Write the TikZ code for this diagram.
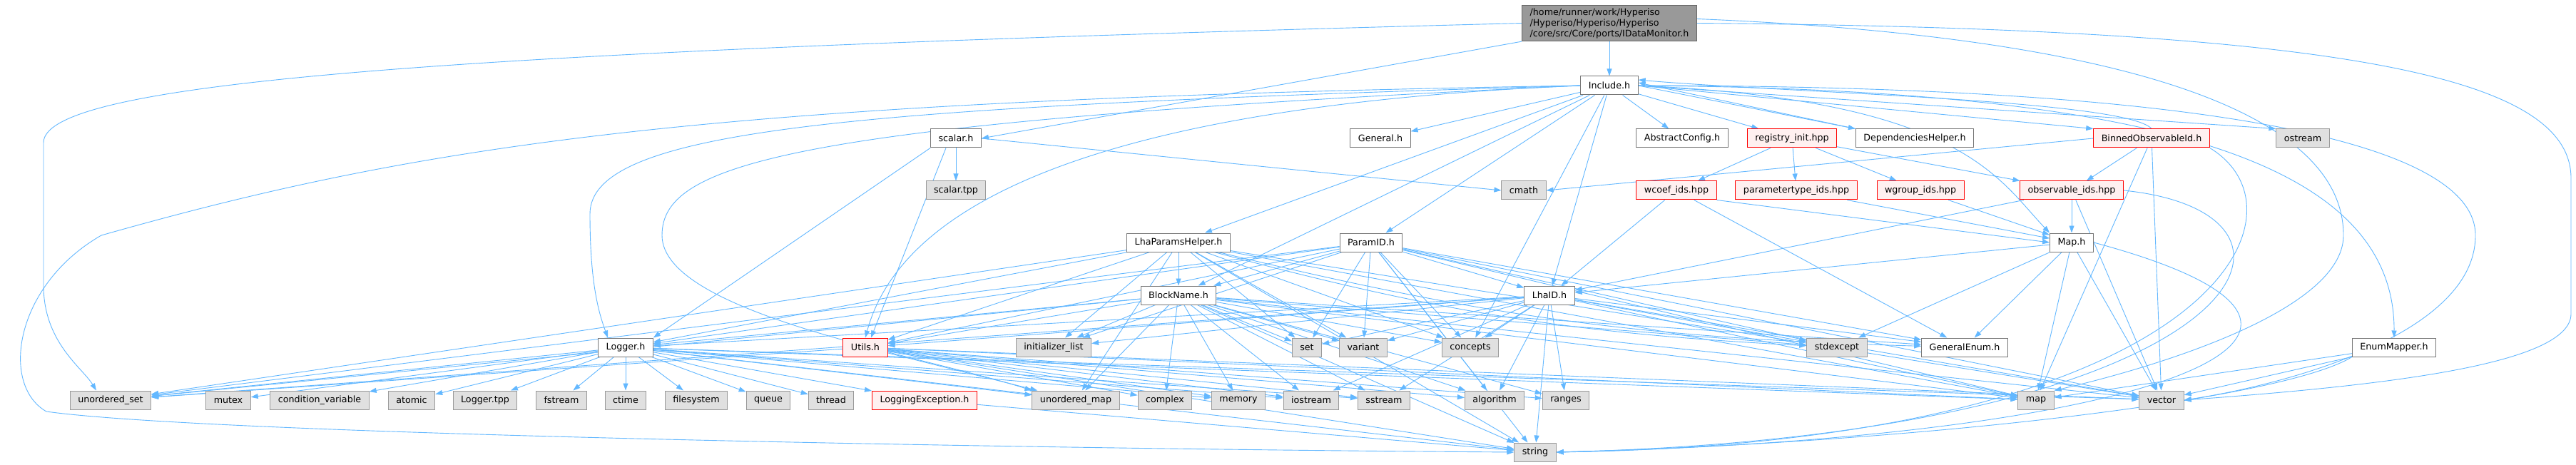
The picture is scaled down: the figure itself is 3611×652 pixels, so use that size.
\documentclass[tikz,border=0pt]{standalone}
\usepackage{fontspec}
\newfontfamily\graphfont{DejaVu Sans}
\usetikzlibrary{arrows.meta,backgrounds}
\tikzset{>={Triangle[length=10pt,width=7pt]}}

\definecolor{edgeblue}{HTML}{63B8FF}
\definecolor{rootfill}{HTML}{999999}
\definecolor{rootline}{HTML}{666666}
\definecolor{fileline}{HTML}{777777}
\definecolor{sysfill}{HTML}{E0E0E0}
\definecolor{sysline}{HTML}{999999}
\definecolor{redfill}{HTML}{FFF0F0}
\definecolor{redline}{HTML}{FF0000}

\tikzset{
  file/.style={draw=fileline,fill=white,line width=1pt,
    font=\graphfont\fontsize{12.7}{15}\selectfont,
    inner xsep=11pt,inner ysep=0pt,minimum height=26pt},
  sysfile/.style={file,draw=sysline,fill=sysfill},
  redfile/.style={file,draw=redline,fill=redfill},
  rootfile/.style={file,draw=rootline,fill=rootfill,align=left,inner ysep=4pt},
  dep/.style={->,draw=edgeblue,line width=0.9pt}
}

\begin{document}
\begin{tikzpicture}[x=1pt,y=-1pt]
\useasboundingbox (0,0) rectangle (3611,652);

% Root file
\node[rootfile] (root) at (2256,32.5) {/home/runner/work/Hyperiso\\/Hyperiso/Hyperiso/Hyperiso\\/core/src/Core/ports/IDataMonitor.h};

% Row 1
\node[file] (inc) at (2256,120) {Include.h};

% Row 2
\node[file] (scalar) at (1340,194) {scalar.h};
\node[file] (general) at (1935,194) {General.h};
\node[file] (absconf) at (2358,194) {AbstractConfig.h};
\node[redfile] (reginit) at (2512,194) {registry\_init.hpp};
\node[file] (dephelp) at (2684,194) {DependenciesHelper.h};
\node[redfile] (binned) at (3016,194) {BinnedObservableId.h};
\node[sysfile] (ostream) at (3228,194) {ostream};

% Row 3
\node[sysfile] (scalartpp) at (1340,267) {scalar.tpp};
\node[sysfile] (cmath) at (2136,267) {cmath};
\node[redfile] (wcoef) at (2350,267) {wcoef\_ids.hpp};
\node[redfile] (ptype) at (2518,267) {parametertype\_ids.hpp};
\node[redfile] (wgroup) at (2692,267) {wgroup\_ids.hpp};
\node[redfile] (obsids) at (2904,267) {observable\_ids.hpp};

% Row 4
\node[file] (lhaph) at (1652,340) {LhaParamsHelper.h};
\node[file] (paramid) at (1922,340) {ParamID.h};
\node[file] (mapH) at (2904,340) {Map.h};

% Row 5
\node[file] (blockname) at (1652,414) {BlockName.h};
\node[file] (lhaid) at (2172,414) {LhaID.h};

% Row 6
\node[file] (logger) at (877,487) {Logger.h};
\node[redfile] (utils) at (1213,487) {Utils.h};
\node[sysfile] (initlist) at (1477,487) {initializer\_list};
\node[sysfile] (set) at (1832,487) {set};
\node[sysfile] (variant) at (1911,487) {variant};
\node[sysfile] (concepts) at (2061,487) {concepts};
\node[sysfile] (stdexcept) at (2575,487) {stdexcept};
\node[file] (genenum) at (2754,487) {GeneralEnum.h};
\node[file] (enummapper) at (3356,487) {EnumMapper.h};

% Row 7
\node[sysfile] (uset) at (155,561) {unordered\_set};
\node[sysfile] (mutex) at (320,561) {mutex};
\node[sysfile] (condvar) at (448,561) {condition\_variable};
\node[sysfile] (atomic) at (577,561) {atomic};
\node[sysfile] (loggertpp) at (680,561) {Logger.tpp};
\node[sysfile] (fstream) at (787,561) {fstream};
\node[sysfile] (ctime) at (877,561) {ctime};
\node[sysfile] (filesystem) at (976,561) {filesystem};
\node[sysfile] (queue) at (1077,561) {queue};
\node[sysfile] (thread) at (1165,561) {thread};
\node[redfile] (logexc) at (1296,561) {LoggingException.h};
\node[sysfile] (umap) at (1508,561) {unordered\_map};
\node[sysfile] (complex) at (1633,561) {complex};
\node[sysfile] (memory) at (1736,561) {memory};
\node[sysfile] (iostream) at (1838,561) {iostream};
\node[sysfile] (sstream) at (1940,561) {sstream};
\node[sysfile] (algorithm) at (2095,561) {algorithm};
\node[sysfile] (ranges) at (2195,561) {ranges};
\node[sysfile] (map) at (2854,561) {map};
\node[sysfile] (vector) at (3030,561) {vector};

% Row 8
\node[sysfile] (string) at (2152,634) {string};

\begin{pgfonlayer}{background}
\fill[white] (0,0) rectangle (3611,652);

% IDataMonitor.h
\draw[dep] (root) -- (inc);
\draw[dep] (root.south west) -- (scalar.east);
\draw[dep] (root.west) .. controls (700,70) and (61,110) .. (61,200) -- (61,400)
   .. controls (61,480) and (115,515) .. ([xshift=-20pt]uset.north);
\draw[dep] ([yshift=6pt]root.east) .. controls (2950,50) and (3285,150) .. (3285,330)
   .. controls (3285,440) and (3000,520) .. (map.north east);
\draw[dep] (root.east) .. controls (3300,40) and (3604,110) .. (3604,250) -- (3604,440)
   .. controls (3604,510) and (3350,540) .. (vector.east);

% Include.h
\draw[dep] (inc) -- (general);
\draw[dep] (inc) -- (absconf);
\draw[dep] (inc) -- (reginit);
\draw[dep] (inc.east) -- (dephelp.north west);
\draw[dep] (inc.east) -- (binned.north west);
\draw[dep] (inc.east) -- (ostream.north west);
\draw[dep] (inc) -- (lhaph);
\draw[dep] (inc) -- (paramid);
\draw[dep] (inc) -- (blockname);
\draw[dep] (inc) -- (lhaid);
\draw[dep] (inc) -- (concepts);
\draw[dep] (inc.east) .. controls (2750,140) and (2800,250) .. (mapH.north west);
\draw[dep] (inc.east) .. controls (3000,125) and (3357,220) .. (enummapper.north);
\draw[dep] (inc.east) .. controls (3100,120) and (3470,200) .. (3470,330)
   .. controls (3470,470) and (3200,540) .. (vector.east);
\draw[dep] (inc.west) .. controls (1200,150) and (827,180) .. (827,300)
   .. controls (827,400) and (840,440) .. ([xshift=-25pt]logger.north);
\draw[dep] (inc.west) .. controls (1500,150) and (1260,300) .. (utils.north);
\draw[dep] (inc.west) .. controls (1100,172) and (928,230) .. (928,330)
   .. controls (928,440) and (1300,500) .. (umap.north west);
\draw[dep] (inc.west) .. controls (1000,140) and (600,200) .. (142,330)
   .. controls (20,400) and (0,540) .. (65,577)
   .. controls (300,610) and (1500,630) .. (string.west);

% scalar.h
\draw[dep] (scalar) -- (scalartpp);
\draw[dep] (scalar.east) -- (cmath.west);
\draw[dep] (scalar.south west) -- (logger.north east);
\draw[dep] ([xshift=-14pt]scalar.south) -- ([xshift=8pt]utils.north);

% registry_init.hpp
\draw[dep] (reginit) -- (wcoef);
\draw[dep] (reginit) -- (ptype);
\draw[dep] (reginit) -- (wgroup);
\draw[dep] (reginit) -- (obsids);

% DependenciesHelper.h and BinnedObservableId.h
\draw[dep] (dephelp.north west) -- ([yshift=4pt]inc.east);
\draw[dep] (binned.north) .. controls (2980,140) and (2500,130) .. ([yshift=8pt]inc.east);
\draw[dep] (binned.west) -- (cmath.east);
\draw[dep] (binned) -- (obsids);
\draw[dep] (binned) -- (vector);
\draw[dep] (binned) -- (map);
\draw[dep] (binned.south east) .. controls (3250,300) and (3100,620) .. (string.east);

% generated id headers
\draw[dep] (wcoef) -- (lhaid);
\draw[dep] (wcoef.south east) -- (mapH.west);
\draw[dep] (wcoef) -- (genenum);
\draw[dep] (ptype) -- (mapH);
\draw[dep] (wgroup) -- (mapH);
\draw[dep] (obsids) -- (mapH);
\draw[dep] (obsids) -- (lhaid);
\draw[dep] (obsids) -- (vector);
\draw[dep] (obsids.east) .. controls (3300,300) and (3150,610) .. (string.east);

% LhaParamsHelper.h
\draw[dep] (lhaph) -- (blockname);
\draw[dep] (lhaph) -- (logger);
\draw[dep] (lhaph) -- (utils);
\draw[dep] (lhaph) -- (uset);
\draw[dep] (lhaph) -- (initlist);
\draw[dep] (lhaph) -- (set);
\draw[dep] (lhaph) -- (variant);
\draw[dep] (lhaph) -- (concepts);
\draw[dep] (lhaph) to[bend right=6] (stdexcept);
\draw[dep] (lhaph) to[bend right=6] (genenum);
\draw[dep] (lhaph) -- (map);
\draw[dep] (lhaph) -- (vector);
\draw[dep] (lhaph) -- (string);
\draw[dep] (lhaph) -- (umap);

% ParamID.h
\draw[dep] (paramid) -- (blockname);
\draw[dep] (paramid) -- (lhaid);
\draw[dep] (paramid) -- (logger);
\draw[dep] (paramid) -- (utils);
\draw[dep] (paramid) -- (uset);
\draw[dep] (paramid) -- (initlist);
\draw[dep] (paramid) -- (set);
\draw[dep] (paramid) -- (variant);
\draw[dep] (paramid) -- (concepts);
\draw[dep] (paramid) -- (stdexcept);
\draw[dep] (paramid) -- (genenum);
\draw[dep] (paramid) -- (map);
\draw[dep] (paramid) -- (vector);
\draw[dep] (paramid) -- (string);
\draw[dep] (paramid) -- (algorithm);

% BlockName.h
\draw[dep] (blockname) -- (logger);
\draw[dep] (blockname) -- (utils);
\draw[dep] (blockname) -- (uset);
\draw[dep] (blockname) -- (initlist);
\draw[dep] (blockname) -- (set);
\draw[dep] (blockname) -- (variant);
\draw[dep] (blockname) -- (concepts);
\draw[dep] (blockname) -- (stdexcept);
\draw[dep] (blockname) -- (genenum);
\draw[dep] (blockname) -- (umap);
\draw[dep] (blockname) -- (complex);
\draw[dep] (blockname) -- (memory);
\draw[dep] (blockname) -- (iostream);
\draw[dep] (blockname) -- (sstream);
\draw[dep] (blockname) -- (algorithm);
\draw[dep] (blockname) -- (ranges);
\draw[dep] (blockname) -- (string);
\draw[dep] (blockname) -- (map);
\draw[dep] (blockname) -- (vector);

% LhaID.h
\draw[dep] (lhaid) -- (logger);
\draw[dep] (lhaid) -- (utils);
\draw[dep] (lhaid) -- (uset);
\draw[dep] (lhaid) -- (initlist);
\draw[dep] (lhaid) -- (set);
\draw[dep] (lhaid) -- (variant);
\draw[dep] (lhaid) -- (concepts);
\draw[dep] (lhaid) -- (stdexcept);
\draw[dep] (lhaid) -- (genenum);
\draw[dep] (lhaid) -- (algorithm);
\draw[dep] (lhaid) -- (ranges);
\draw[dep] (lhaid) -- (string);
\draw[dep] (lhaid) -- (map);
\draw[dep] (lhaid) -- (vector);
\draw[dep] (lhaid) -- (iostream);
\draw[dep] (lhaid) -- (sstream);

% Map.h
\draw[dep] (mapH) -- (lhaid);
\draw[dep] (mapH) -- (genenum);
\draw[dep] (mapH) -- (stdexcept);
\draw[dep] (mapH) -- (map);
\draw[dep] (mapH) -- (vector);
\draw[dep] (mapH.east) .. controls (3420,470) and (3000,615) .. (string.east);

% Utils.h
\draw[dep] (utils) -- (uset);
\draw[dep] (utils) -- (umap);
\draw[dep] (utils) -- (complex);
\draw[dep] (utils) -- (memory);
\draw[dep] (utils) -- (iostream);
\draw[dep] (utils) -- (sstream);
\draw[dep] (utils) -- (algorithm);
\draw[dep] (utils) -- (ranges);
\draw[dep] (utils) -- (string);
\draw[dep] (utils) -- (map);
\draw[dep] (utils) -- (vector);

% Logger.h
\draw[dep] (logger) -- (uset);
\draw[dep] (logger) -- (mutex);
\draw[dep] (logger) -- (condvar);
\draw[dep] (logger) -- (atomic);
\draw[dep] (logger) -- (loggertpp);
\draw[dep] (logger) -- (fstream);
\draw[dep] (logger) -- (ctime);
\draw[dep] (logger) -- (filesystem);
\draw[dep] (logger) -- (queue);
\draw[dep] (logger) -- (thread);
\draw[dep] (logger) -- (logexc);
\draw[dep] (logger) -- (umap);
\draw[dep] (logger) -- (memory);
\draw[dep] (logger) -- (iostream);
\draw[dep] (logger) -- (sstream);
\draw[dep] (logger) -- (string);
\draw[dep] (logger) -- (map);
\draw[dep] (logger) -- (vector);

% LoggingException.h and EnumMapper.h
\draw[dep] (logexc) -- (string);
\draw[dep] (enummapper) -- (map);
\draw[dep] (enummapper) -- (vector);
\draw[dep] (enummapper.south west) .. controls (3200,560) and (2700,620) .. (string.east);
\end{pgfonlayer}
\end{tikzpicture}
\end{document}
